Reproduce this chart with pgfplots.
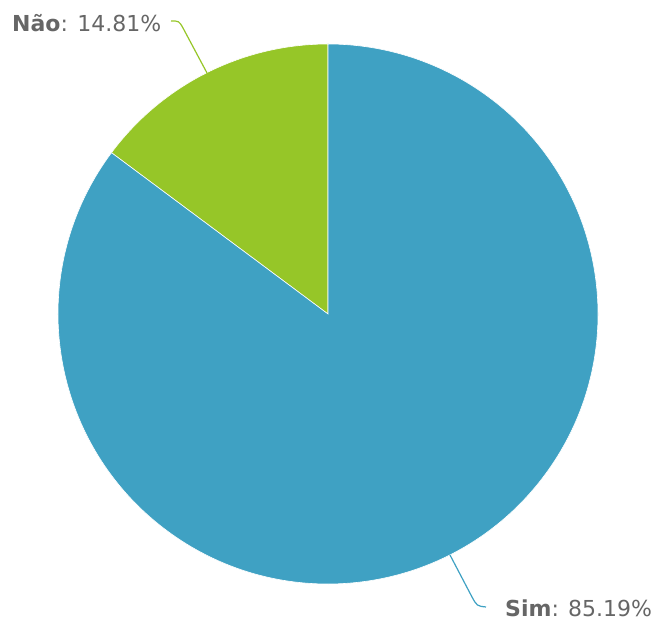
\documentclass[border=0pt]{standalone}
\usepackage{pgfplots}
\pgfplotsset{compat=1.18}
\usepackage{fontspec}
\setmainfont{DejaVu Sans}
\definecolor{simblue}{RGB}{63,161,195}
\definecolor{naogreen}{RGB}{150,198,40}
\definecolor{labelgray}{RGB}{102,102,102}

% pie: centre and radius in pixel units of the page
\def\cx{328}
\def\cy{307}
\def\rr{270}
% values in percent
\def\simval{85.19}
\def\naoval{14.81}

\begin{document}
\begin{tikzpicture}
\begin{axis}[
  width=656pt, height=621pt, scale only axis,
  xmin=0, xmax=656, ymin=0, ymax=621,
  hide axis, clip=false,
]
  % keep the whole page
  \path (axis cs:0,0) rectangle (axis cs:656,621);
  \pgfmathsetmacro{\aStart}{90}
  \pgfmathsetmacro{\aMid}{90+3.6*\naoval}
  \pgfmathsetmacro{\aEnd}{450}
  % Nao slice
  \fill[naogreen, draw=white, line width=0.6pt] (axis cs:\cx,\cy) -- (axis cs:{\cx+\rr*cos(\aStart)},{\cy+\rr*sin(\aStart)})
    arc[start angle=\aStart, end angle=\aMid, radius=\rr] -- cycle;
  % Sim slice
  \fill[simblue, draw=white, line width=0.6pt] (axis cs:\cx,\cy) -- (axis cs:{\cx+\rr*cos(\aMid)},{\cy+\rr*sin(\aMid)})
    arc[start angle=\aMid, end angle=\aEnd, radius=\rr] -- cycle;
  % leader lines
  \draw[naogreen, line width=1.2pt] (axis cs:207,548) -- (axis cs:183,593) .. controls (axis cs:179,600) .. (axis cs:171,600);
  \draw[simblue, line width=1.2pt] (axis cs:450,66) -- (axis cs:472,24) .. controls (axis cs:477,15) .. (axis cs:486,14);
  % labels
  \node[anchor=base west, inner sep=0pt, text=labelgray, font=\fontsize{22}{26}\selectfont] at (axis cs:12,589) {\textbf{Não}: 14.81\%};
  \node[anchor=base west, inner sep=0pt, text=labelgray, font=\fontsize{22}{26}\selectfont] at (axis cs:505,4) {\textbf{Sim}: 85.19\%};
\end{axis}
\end{tikzpicture}
\end{document}
